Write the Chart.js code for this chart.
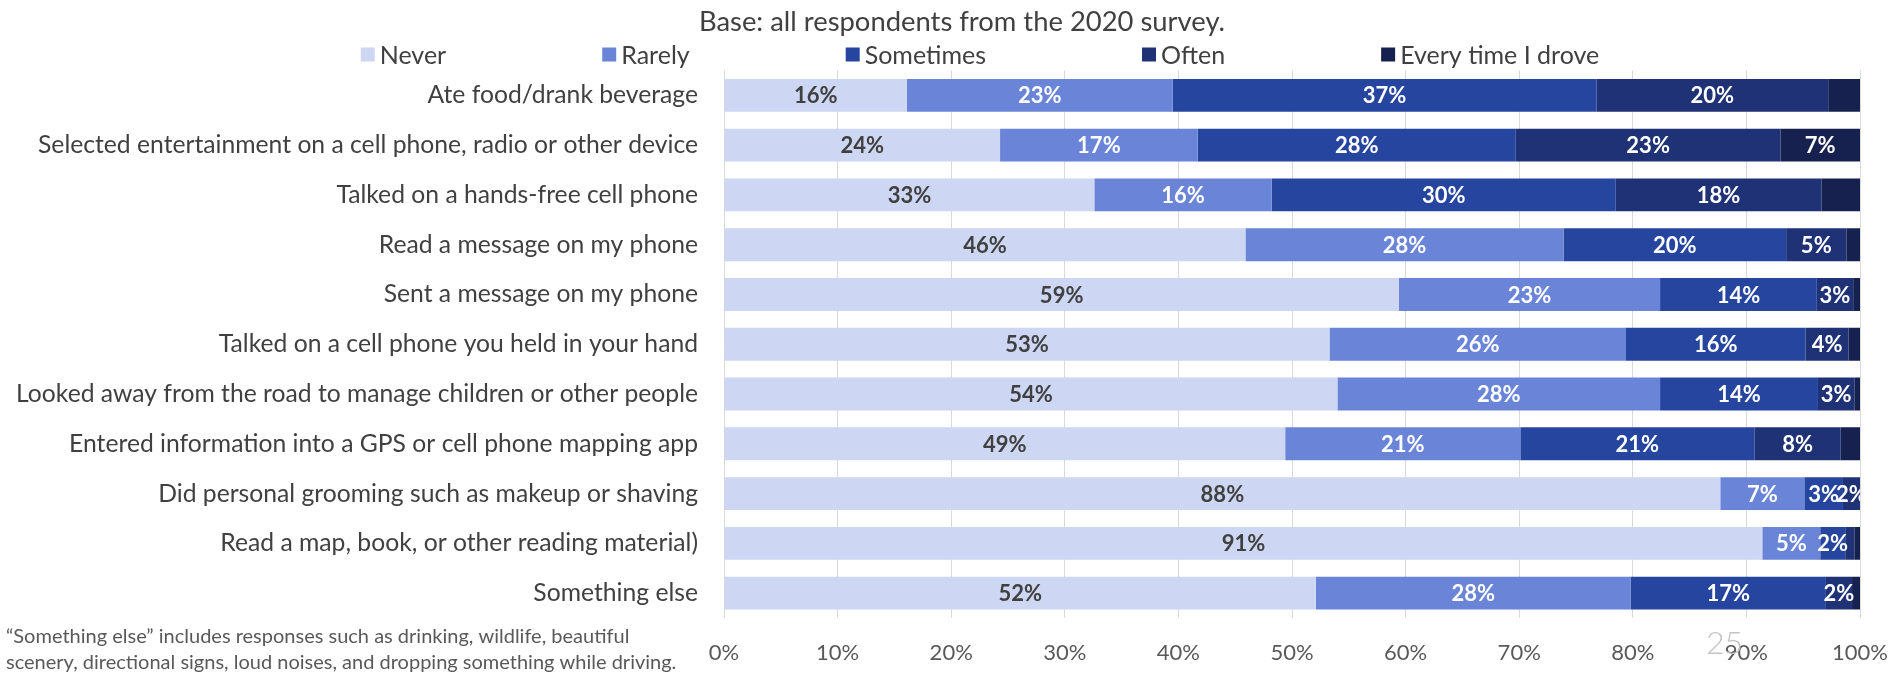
<!DOCTYPE html>
<html>
<head>
<meta charset="utf-8">
<script src="https://cdn.jsdelivr.net/npm/chart.js@4/dist/chart.umd.min.js"></script>
<style>
  html, body { margin: 0; padding: 0; background: #fff; }
  canvas { display: block; }
</style>
</head>
<body>
<canvas id="distraction-chart" width="1888" height="676"></canvas>
<script>
// survey answers, percent of respondents per behaviour
var categories = [
  'Ate food/drank beverage',
  'Selected entertainment on a cell phone, radio or other device',
  'Talked on a hands-free cell phone',
  'Read a message on my phone',
  'Sent a message on my phone',
  'Talked on a cell phone you held in your hand',
  'Looked away from the road to manage children or other people',
  'Entered information into a GPS or cell phone mapping app',
  'Did personal grooming such as makeup or shaving',
  'Read a map, book, or other reading material)',
  'Something else'
];
var seriesNames = ['Never', 'Rarely', 'Sometimes', 'Often', 'Every time I drove'];
var never     = [16.1, 24.3, 32.6, 45.9, 59.4, 53.3, 54.0, 49.4, 87.7, 91.4, 52.1];
var rarely    = [23.4, 17.4, 15.6, 28.0, 23.0, 26.1, 28.4, 20.7, 7.4, 5.1, 27.7];
var sometimes = [37.3, 28.0, 30.3, 19.6, 13.8, 15.8, 13.9, 20.6, 3.4, 2.2, 17.2];
var often     = [20.4, 23.3, 18.1, 5.3, 3.2, 3.8, 3.2, 7.6, 1.5, 0.8, 2.3];
var everyTime = [2.8, 7.0, 3.4, 1.2, 0.6, 1.0, 0.5, 1.7, 0.0, 0.5, 0.7];
var xTicks = [0, 10, 20, 30, 40, 50, 60, 70, 80, 90, 100];

var titleText = 'Base: all respondents from the 2020 survey.';
var footnote = [
  '\u201cSomething else\u201d includes responses such as drinking, wildlife, beautiful',
  'scenery, directional signs, loud noises, and dropping something while driving.'
];
var pageNumber = '25';

var colors = ['#cdd6f2', '#6a85d8', '#26459e', '#1f3275', '#162150'];
// smallest value that still gets a label, per series
var labelMin = [1.5, 1.5, 1.5, 1.5, 5];
var FONT = 'Lato';

// percent labels centred in each segment
var segmentLabels = {
  id: 'segmentLabels',
  afterDatasetsDraw: function (chart) {
    var ctx = chart.ctx, area = chart.chartArea;
    ctx.save();
    ctx.beginPath();
    ctx.rect(area.left, area.top, area.right - area.left, area.bottom - area.top);
    ctx.clip();
    ctx.font = 'bold 22px ' + FONT;
    ctx.textAlign = 'center';
    ctx.textBaseline = 'middle';
    chart.data.datasets.forEach(function (ds, di) {
      chart.getDatasetMeta(di).data.forEach(function (bar, i) {
        var v = ds.data[i];
        if (v < labelMin[di]) return;
        ctx.fillStyle = di === 0 ? '#404040' : '#ffffff';
        ctx.fillText(Math.round(v) + '%', (bar.x + bar.base) / 2, bar.y + 1);
      });
    });
    ctx.restore();
  }
};

// title, one legend row with wide spacing, footnote and page number
var extras = {
  id: 'extras',
  afterDraw: function (chart) {
    var ctx = chart.ctx;
    var top = chart.chartArea.top;
    ctx.save();
    ctx.textBaseline = 'middle';

    ctx.font = '27.4px ' + FONT;
    ctx.textAlign = 'center';
    ctx.fillStyle = '#404040';
    ctx.fillText(titleText, 962, top - 48);

    ctx.textAlign = 'left';
    ctx.font = '25px ' + FONT;
    var box = 14, gapText = 5, gapItem = 156;
    var items = chart.data.datasets.map(function (ds) {
      return { text: ds.label, color: ds.backgroundColor,
               w: box + gapText + ctx.measureText(ds.label).width };
    });
    var total = items.reduce(function (s, it) { return s + it.w; }, 0) + gapItem * (items.length - 1);
    var x = 980 - total / 2;
    var y = top - 16;
    items.forEach(function (it) {
      ctx.fillStyle = it.color;
      ctx.fillRect(x, y - box / 2, box, box);
      ctx.fillStyle = '#404040';
      ctx.fillText(it.text, x + box + gapText, y + 1);
      x += it.w + gapItem;
    });

    ctx.font = '20px ' + FONT;
    ctx.fillStyle = '#595959';
    ctx.fillText(footnote[0], 6, 637);
    ctx.fillText(footnote[1], 6, 663);

    ctx.font = '300 32px ' + FONT;
    ctx.fillStyle = '#c4c4c4';
    ctx.fillText(pageNumber, 1706, 644);
    ctx.restore();
  }
};

var datasets = [never, rarely, sometimes, often, everyTime].map(function (vals, i) {
  return {
    label: seriesNames[i],
    data: vals,
    backgroundColor: colors[i],
    borderWidth: 0,
    barPercentage: 0.66,
    categoryPercentage: 1
  };
});

new Chart(document.getElementById('distraction-chart').getContext('2d'), {
  type: 'bar',
  data: { labels: categories, datasets: datasets },
  plugins: [segmentLabels, extras],
  options: {
    indexAxis: 'y',
    responsive: false,
    animation: false,
    layout: { padding: { left: 0, right: 28, top: 70.5, bottom: 0 } },
    plugins: {
      legend: { display: false },
      tooltip: { enabled: false },
      title: { display: false }
    },
    scales: {
      x: {
        stacked: true,
        min: 0,
        max: 100,
        afterBuildTicks: function (scale) {
          scale.ticks = xTicks.map(function (v) { return { value: v }; });
        },
        afterFit: function (scale) {
          scale.height = 58;
          scale.paddingRight = 0;
          scale.paddingLeft = 0;
        },
        grid: { color: '#d9d9d9', lineWidth: 1, drawTicks: false },
        border: { display: false },
        ticks: {
          padding: 22,
          color: '#595959',
          maxRotation: 0,
          font: { family: FONT, size: 22 },
          callback: function (v) { return v + '%'; }
        }
      },
      y: {
        stacked: true,
        afterFit: function (scale) { scale.width = 724; },
        grid: { display: false, drawTicks: false },
        border: { display: false },
        ticks: {
          padding: 26,
          color: '#404040',
          font: { family: FONT, size: 24.7 }
        }
      }
    }
  }
});
</script>
</body>
</html>
